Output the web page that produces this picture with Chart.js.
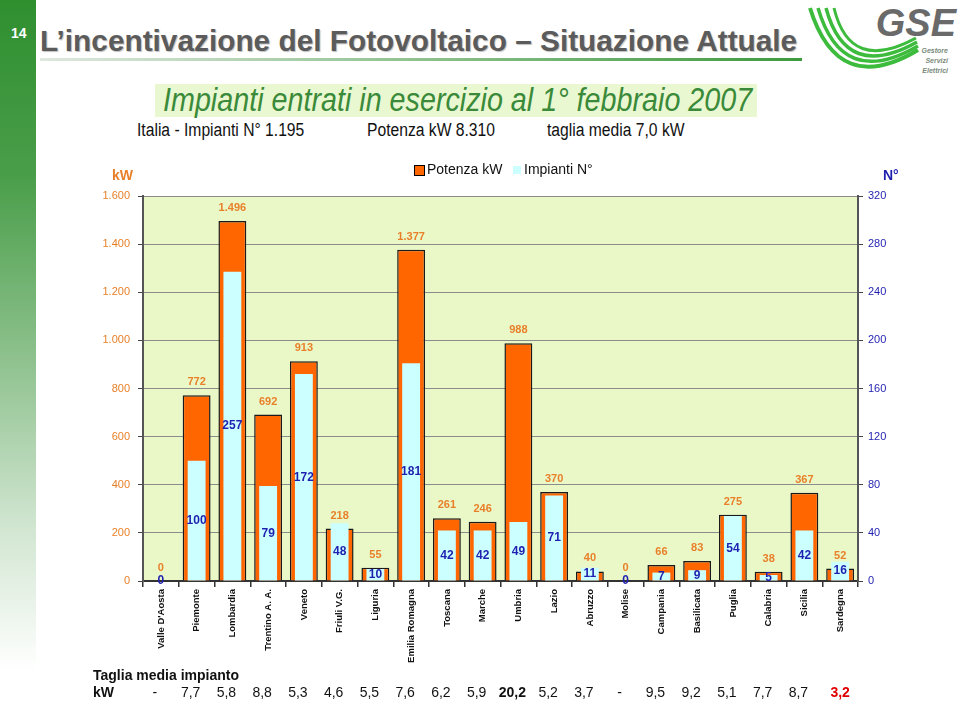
<!DOCTYPE html>
<html>
<head>
<meta charset="utf-8">
<script src="https://cdn.jsdelivr.net/npm/chart.js@4.4.0/dist/chart.umd.min.js"></script>
<style>
  body { margin: 0; width: 960px; height: 707px; background: #fff; position: relative; overflow: hidden; font-family: Arial, "Liberation Sans", sans-serif; }
  .abs { position: absolute; white-space: nowrap; }
  #bar { left: 0; top: 0; width: 36px; height: 707px; background: linear-gradient(to bottom, #2f8f2f 0%, #4a9e4a 25%, #8cc08c 50%, #d2e6d2 75%, #ffffff 95%); }
  #num { left: 11px; top: 25px; color: #fff; font-weight: bold; font-size: 14px; }
  #title { left: 40px; top: 24px; color: #5b5b5b; font-weight: bold; font-size: 29.8px; text-shadow: 1px 1px 1px #c0c0c0; }
  #rule { left: 40px; top: 58px; width: 762px; height: 3px; background: linear-gradient(to right, #dfe8df, #3d9a3d); }
  #sub { left: 155px; top: 84px; width: 602px; height: 33px; background: #eaf8d2; }
  #subtxt { left: 163px; top: 81px; color: #3a8a3a; font-style: italic; font-size: 33px; line-height: 38px; transform: scaleX(0.87); transform-origin: 0 0; }
  .sum { top: 120px; font-size: 18px; color: #111; transform: scaleX(0.87); transform-origin: 0 0; }
  #wrap { position: absolute; left: 0; top: 150px; width: 960px; height: 557px; }
</style>
</head>
<body>
<div id="bar" class="abs"></div>
<div id="num" class="abs">14</div>
<div id="title" class="abs">L’incentivazione del Fotovoltaico – Situazione Attuale</div>
<div id="rule" class="abs"></div>
<svg class="abs" style="left:790px;top:0" width="170" height="90" viewBox="0 0 170 90">
  <path d="M20 8 Q48 98 128 50" fill="none" stroke="#3dbb3d" stroke-width="4"/>
  <path d="M28 8 Q52 90 128 46" fill="none" stroke="#3dbb3d" stroke-width="3.5"/>
  <path d="M36 8 Q56 82 127 42" fill="none" stroke="#3dbb3d" stroke-width="3.5"/>
  <path d="M44 8 Q60 74 126 38" fill="none" stroke="#3dbb3d" stroke-width="3"/>
  <text x="166" y="36" text-anchor="end" font-family="Arial, sans-serif" font-weight="bold" font-style="italic" font-size="38" fill="#6a6a6a">GSE</text>
  <text x="158" y="53" text-anchor="end" font-family="Arial, sans-serif" font-weight="bold" font-style="italic" font-size="7" fill="#7a8a7a">Gestore</text>
  <text x="158" y="63" text-anchor="end" font-family="Arial, sans-serif" font-weight="bold" font-style="italic" font-size="7" fill="#7a8a7a">Servizi</text>
  <text x="158" y="73" text-anchor="end" font-family="Arial, sans-serif" font-weight="bold" font-style="italic" font-size="7" fill="#7a8a7a">Elettrici</text>
</svg>
<div id="sub" class="abs"></div>
<div id="subtxt" class="abs">Impianti entrati in esercizio al 1° febbraio 2007</div>
<div class="abs sum" style="left:137px">Italia - Impianti N° 1.195</div>
<div class="abs sum" style="left:367px">Potenza kW 8.310</div>
<div class="abs sum" style="left:547px">taglia media 7,0 kW</div>
<div id="wrap"><canvas id="chart" width="960" height="557"></canvas></div>

<script>
// regioni e valori (1 febbraio 2007)
const regioni = ['Valle D\'Aosta', 'Piemonte', 'Lombardia', 'Trentino A. A.', 'Veneto', 'Friuli V.G.', 'Liguria',
    'Emilia Romagna', 'Toscana', 'Marche', 'Umbria', 'Lazio', 'Abruzzo', 'Molise', 'Campania', 'Basilicata',
    'Puglia', 'Calabria', 'Sicilia', 'Sardegna'];
const potenzaKw = [0, 772, 1496, 692, 913, 218, 55, 1377, 261, 246, 988, 370, 40, 0, 66, 83, 275, 38, 367, 52];
const impiantiN = [0, 100, 257, 79, 172, 48, 10, 181, 42, 42, 49, 71, 11, 0, 7, 9, 54, 5, 42, 16];
const tagliaMedia = ['-', '7,7', '5,8', '8,8', '5,3', '4,6', '5,5', '7,6', '6,2', '5,9', '20,2', '5,2', '3,7', '-',
    '9,5', '9,2', '5,1', '7,7', '8,7', '3,2'];

const ORANGE = '#ff6600';
const ORANGE_TXT = '#e8802a';
const CYAN = '#ccffff';
const BLUE = '#1f1fb0';
const FONT = 'Arial, "Liberation Sans", sans-serif';

function fmt(v) {
    return String(v).replace(/\B(?=(\d{3})+(?!\d))/g, '.');
}

const decor = {
    id: 'decor',
    beforeDraw(chart) {
        const { ctx, chartArea: a } = chart;
        ctx.save();
        ctx.fillStyle = '#eaf8c8';
        ctx.fillRect(a.left, a.top, a.right - a.left, a.bottom - a.top);
        ctx.restore();
    },
    afterDatasetsDraw(chart) {
        const ctx = chart.ctx;
        const mk = chart.getDatasetMeta(0);
        const mn = chart.getDatasetMeta(1);
        ctx.save();
        ctx.textAlign = 'center';
        ctx.textBaseline = 'middle';
        mk.data.forEach((el, i) => {
            ctx.font = 'bold 11px ' + FONT;
            ctx.fillStyle = ORANGE_TXT;
            ctx.fillText(fmt(potenzaKw[i]), el.x, el.y - 13);
        });
        mn.data.forEach((el, i) => {
            ctx.font = 'bold 12px ' + FONT;
            ctx.fillStyle = BLUE;
            ctx.fillText(String(impiantiN[i]), el.x, (el.y + el.base) / 2);
        });
        ctx.restore();
    },
    afterDraw(chart) {
        const ctx = chart.ctx;
        const xs = chart.scales.x;
        ctx.save();
        // legenda
        ctx.textBaseline = 'middle';
        ctx.fillStyle = ORANGE;
        ctx.fillRect(414, 15, 10, 10);
        ctx.strokeStyle = '#000';
        ctx.lineWidth = 1;
        ctx.strokeRect(414.5, 15.5, 10, 10);
        ctx.fillStyle = CYAN;
        ctx.fillRect(513, 16, 8, 8);
        ctx.fillStyle = '#111';
        ctx.font = '14px ' + FONT;
        ctx.textAlign = 'left';
        ctx.fillText('Potenza kW', 427, 20);
        ctx.fillText('Impianti N°', 524, 20);
        // titoli assi
        ctx.font = 'bold 14px ' + FONT;
        ctx.fillStyle = ORANGE_TXT;
        ctx.fillText('kW', 112, 26);
        ctx.fillStyle = BLUE;
        ctx.fillText('N°', 883, 26);
        // taglia media
        ctx.fillStyle = '#111';
        ctx.font = 'bold 14px ' + FONT;
        ctx.fillText('Taglia media impianto', 93, 526);
        ctx.fillText('kW', 93, 543);
        ctx.textAlign = 'center';
        tagliaMedia.forEach((t, i) => {
            let x = xs.getPixelForValue(i) - 6;
            ctx.font = '14px ' + FONT;
            ctx.fillStyle = '#111';
            if (i === 10) ctx.font = 'bold 14px ' + FONT;
            if (i === 19) { ctx.font = 'bold 14px ' + FONT; ctx.fillStyle = '#e00000'; x += 6; }
            ctx.fillText(t, x, 543);
        });
        ctx.restore();
    }
};

new Chart(document.getElementById('chart').getContext('2d'), {
    type: 'bar',
    data: {
        labels: regioni,
        datasets: [{
            label: 'Potenza kW',
            data: potenzaKw,
            yAxisID: 'y',
            backgroundColor: ORANGE,
            borderColor: '#1a1a1a',
            borderWidth: 1.5,
            grouped: false,
            categoryPercentage: 1,
            barPercentage: 0.78,
            order: 2
        }, {
            label: 'Impianti N°',
            data: impiantiN,
            yAxisID: 'y1',
            backgroundColor: CYAN,
            borderWidth: 0,
            grouped: false,
            categoryPercentage: 1,
            barPercentage: 0.5,
            order: 1
        }]
    },
    options: {
        responsive: false,
        animation: false,
        layout: { padding: { top: 46, left: 0, right: 0, bottom: 0 } },
        plugins: { legend: { display: false }, tooltip: { enabled: false } },
        scales: {
            x: {
                afterFit: s => { s.height = 126; },
                grid: { drawOnChartArea: false, offset: true, tickLength: 6, tickColor: '#333', lineWidth: 1.5 },
                border: { color: '#333', width: 2 },
                ticks: {
                    autoSkip: false, minRotation: 90, maxRotation: 90, padding: 2,
                    color: '#111', font: { family: FONT, size: 9.5, weight: 'bold' }
                }
            },
            y: {
                position: 'left',
                min: 0, max: 1600,
                afterFit: s => { s.width = 143; },
                grid: { color: '#8c8c8c', lineWidth: 1, tickLength: 5, tickColor: '#444' },
                border: { color: '#555', width: 2 },
                ticks: {
                    stepSize: 200, padding: 8, color: ORANGE_TXT,
                    font: { family: FONT, size: 11 },
                    callback: v => fmt(v)
                }
            },
            y1: {
                position: 'right',
                min: 0, max: 320,
                afterFit: s => { s.width = 102; },
                grid: { drawOnChartArea: false, tickLength: 5, tickColor: '#444' },
                border: { color: '#555', width: 2 },
                ticks: {
                    stepSize: 40, padding: 5, color: BLUE,
                    font: { family: FONT, size: 11 }
                }
            }
        }
    },
    plugins: [decor]
});
</script>
</body>
</html>
